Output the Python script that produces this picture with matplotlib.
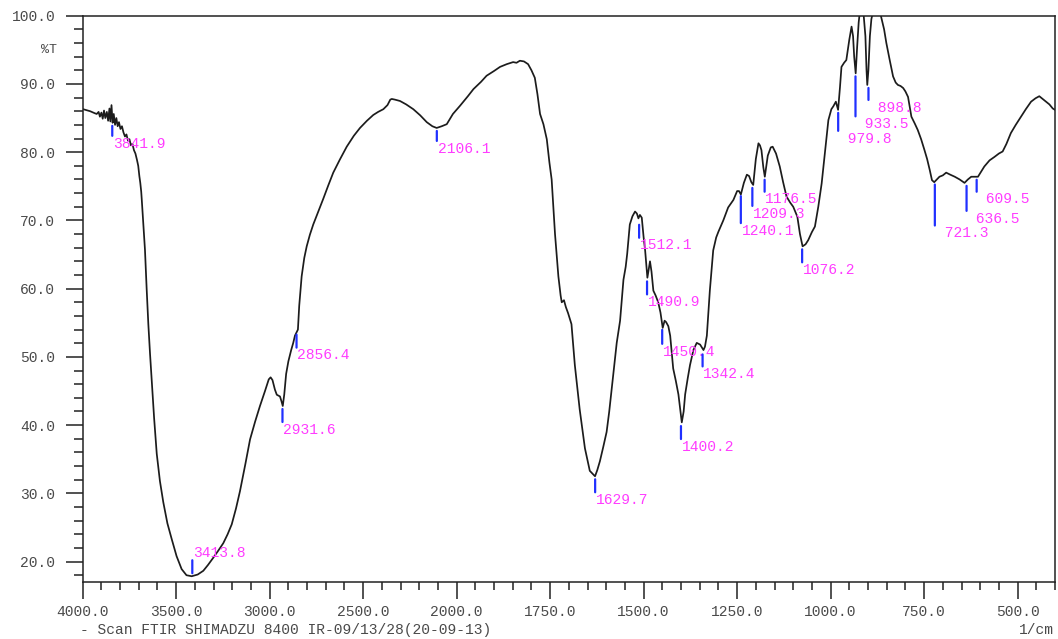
import numpy as np
import matplotlib
matplotlib.use("Agg")
import matplotlib.pyplot as plt
from matplotlib.ticker import FixedLocator, FuncFormatter

# FTIR transmittance spectrum (wavenumber in 1/cm, transmittance in %T)
wavenumber = [
    3998, 3960, 3935, 3925, 3915, 3908, 3900, 3893, 3886, 3879, 3871, 3864, 3857,
    3852, 3846, 3840, 3834, 3827, 3820, 3813, 3806, 3798, 3790, 3782, 3774, 3766,
    3758, 3750, 3742, 3734, 3726, 3718, 3710, 3703, 3697, 3692, 3687, 3684, 3676,
    3667, 3658, 3649, 3640, 3631, 3618, 3604, 3587, 3569, 3547, 3524, 3498, 3471,
    3445, 3417, 3385, 3355, 3330, 3302, 3275, 3248, 3225, 3203, 3180, 3159, 3130,
    3105, 3078, 3052, 3025, 3005, 2995, 2985, 2972, 2962, 2945, 2937, 2930, 2922,
    2912, 2900, 2885, 2874, 2865, 2856, 2849, 2842, 2835, 2829, 2815, 2802, 2785,
    2767, 2740, 2713, 2687, 2660, 2625, 2588, 2550, 2517, 2480, 2446, 2420, 2392,
    2370, 2355, 2347, 2330, 2303, 2270, 2232, 2195, 2160, 2130, 2107, 2080, 2053,
    2020, 1991, 1970, 1955, 1935, 1920, 1900, 1884, 1866, 1849, 1840, 1831, 1820,
    1809, 1800, 1791, 1784, 1777, 1768, 1759, 1752, 1746, 1741, 1737, 1732, 1728,
    1722, 1719, 1713, 1708, 1702, 1693, 1684, 1671, 1657, 1650, 1644, 1637, 1630,
    1624, 1617, 1608, 1599, 1592, 1586, 1579, 1572, 1563, 1554, 1548, 1544, 1537,
    1530, 1523, 1518, 1514, 1510, 1505, 1500, 1496, 1490, 1486, 1483, 1479, 1474,
    1468, 1461, 1455, 1449, 1444, 1440, 1434, 1429, 1421, 1414, 1407, 1398, 1393,
    1389, 1382, 1376, 1367, 1358, 1349, 1340, 1336, 1331, 1323, 1314, 1306, 1300,
    1287, 1274, 1260, 1250, 1245, 1240, 1232, 1224, 1218, 1212, 1207, 1200, 1193,
    1189, 1185, 1180, 1176, 1168, 1160, 1155, 1146, 1136, 1127, 1118, 1108, 1100,
    1089, 1082, 1075, 1067, 1060, 1050, 1042, 1033, 1024, 1015, 1006, 998, 993,
    986, 980, 975, 971, 964, 958, 950, 944, 940, 937, 933, 929, 925, 922, 913,
    907, 904, 902, 899, 895, 891, 885, 870, 864, 857, 851, 842, 833, 826, 820,
    813, 806, 800, 793, 788, 784, 775, 767, 758, 749, 742, 735, 729, 723, 716,
    709, 700, 691, 680, 668, 655, 642, 633, 624, 615, 606, 598, 589, 575, 562,
    550, 540, 530, 518, 505, 491, 478, 464, 452, 442, 433, 424, 415, 406, 400,
]
transmittance = [
    86.3, 86.0, 85.7, 85.6, 85.9, 85.2, 85.8, 84.9, 86.1, 85.0, 85.9, 84.6, 86.4,
    84.5, 86.9, 84.3, 85.6, 84.0, 85.0, 83.8, 84.4, 83.4, 83.8, 82.9, 82.3, 82.6,
    81.7, 81.9, 81.0, 81.2, 80.3, 79.8, 78.9, 78.0, 76.5, 75.5, 74.2, 73.0, 69.5,
    65.7, 60.0, 54.8, 50.5, 46.6, 41.0, 35.8, 31.8, 28.7, 25.6, 23.3, 20.8, 18.9,
    18.0, 17.85, 18.1, 18.65, 19.5, 20.55, 21.6, 22.7, 24.0, 25.45, 27.8, 30.3, 34.3,
    37.9, 40.5, 42.8, 45.0, 46.7, 47.0, 46.6, 45.2, 44.45, 44.2, 43.5, 42.8, 44.5,
    47.5, 49.35, 51.0, 52.05, 53.1, 53.6, 54.0, 57.5, 59.8, 61.8, 64.5, 66.2, 67.9,
    69.4, 71.3, 73.2, 75.1, 77.0, 78.9, 80.8, 82.4, 83.55, 84.6, 85.45, 85.9, 86.3,
    86.9, 87.7, 87.8, 87.7, 87.5, 87.0, 86.3, 85.4, 84.4, 83.8, 83.55, 83.8, 84.1,
    85.6, 86.8, 88.2, 89.25, 90.3, 91.2, 91.9, 92.5, 92.9, 93.2, 93.1, 93.4, 93.3,
    92.9, 92.0, 90.9, 88.5, 85.6, 84.1, 81.9, 78.5, 76.0, 71.5, 68.0, 64.5, 61.8,
    59.0, 58.0, 58.3, 57.3, 56.4, 54.8, 48.8, 42.3, 36.6, 34.8, 33.3, 32.9, 32.5,
    33.4, 34.7, 36.8, 39.0, 42.0, 45.0, 48.5, 52.05, 55.3, 61.3, 63.2, 65.1, 69.4,
    70.6, 71.3, 71.0, 70.3, 70.8, 70.4, 67.5, 65.6, 61.6, 63.0, 64.0, 62.5, 59.7,
    59.0, 58.0, 56.5, 54.25, 55.3, 55.1, 54.5, 53.1, 48.3, 46.5, 44.5, 40.4, 42.0,
    44.5, 46.9, 48.8, 51.0, 52.05, 51.8, 51.0, 51.5, 53.1, 59.7, 65.6, 67.5, 68.35,
    70.0, 71.9, 73.0, 74.3, 74.3, 73.8, 75.5, 76.7, 76.5, 75.6, 75.2, 79.0, 81.3,
    81.0, 80.3, 77.8, 76.4, 79.5, 80.7, 80.8, 79.8, 77.9, 75.6, 73.5, 72.6, 72.0,
    70.55, 68.0, 66.2, 66.5, 67.1, 68.3, 69.1, 72.0, 75.4, 80.0, 84.7, 86.3, 86.7,
    87.4, 86.2, 89.5, 92.5, 93.1, 93.5, 96.5, 98.4, 97.0, 94.0, 91.55, 95.5, 99.0, 100.5, 101.0,
    97.0, 92.0, 89.85, 92.0, 97.0, 99.5, 101.0, 101.0, 99.6, 98.0, 96.0, 93.5, 91.1, 90.2, 89.85,
    89.7, 89.4, 88.9, 88.1, 86.5, 85.2, 84.2, 83.25, 81.9, 80.3, 79.0, 77.4, 75.9, 75.6, 76.0,
    76.4, 76.6, 77.0, 76.7, 76.4, 76.0, 75.5, 76.0, 76.4, 76.4, 76.4, 77.1, 77.9, 78.8, 79.3,
    79.8, 80.1, 81.2, 82.8, 84.0, 85.2, 86.3, 87.4, 87.9, 88.2, 87.8, 87.4, 87.0, 86.4, 86.2,
]

# Peak table: position (1/cm) and transmittance at the peak (%T)
peak_wn = [3841.9, 3413.8, 2931.6, 2856.4, 2106.1, 1629.7, 1512.1, 1490.9,
           1450.4, 1400.2, 1342.4, 1240.1, 1209.3, 1176.5, 1076.2, 979.8,
           933.5, 898.8, 721.3, 636.5, 609.5]
peak_T = [84.3, 17.85, 42.8, 53.7, 83.55, 32.5, 69.8, 61.5,
          54.4, 40.3, 50.8, 74.0, 75.2, 76.4, 66.2, 86.2,
          91.55, 89.85, 75.7, 75.5, 76.4]

x_major = [4000, 3500, 3000, 2500, 2000, 1750, 1500, 1250, 1000, 750, 500]
y_major = [20, 30, 40, 50, 60, 70, 80, 90, 100]

# ---- layout (pixels -> points at 100 dpi) ----
PX = 0.72
tick_len_px = {3841.9: 10, 3413.8: 13, 2931.6: 13, 2856.4: 13, 2106.1: 10,
               1629.7: 13, 1512.1: 13, 1490.9: 13, 1450.4: 14, 1400.2: 13,
               1342.4: 12, 1240.1: 27, 1209.3: 18, 1176.5: 12, 1076.2: 13,
               979.8: 18, 933.5: 40, 898.8: 12, 721.3: 41, 636.5: 25, 609.5: 12}
upward = {3413.8}

GRAY = "#4a4a4a"
MAGENTA = "#ff3cff"
BLUE = "#2030ff"
FONT = ["Liberation Mono", "DejaVu Sans Mono"]
FS = 10.5


# Shimadzu-style abscissa: 500 1/cm per division above 2000, 250 below
def fwd(x):
    x = np.asarray(x, dtype=float)
    return np.where(x >= 2000, 4 + (x - 2000) / 500.0, 4 + (x - 2000) / 250.0)


def inv(u):
    u = np.asarray(u, dtype=float)
    return np.where(u >= 4, 2000 + (u - 4) * 500.0, 2000 + (u - 4) * 250.0)


W, H = 1058, 639
fig = plt.figure(figsize=(W / 100, H / 100), dpi=100)
left, right, top, bottom = 82.7, 1055.0, 15.7, 581.7
ax = fig.add_axes([left / W, 1 - bottom / H, (right - left) / W, (bottom - top) / H])

ax.set_xscale("function", functions=(fwd, inv))
ax.set_xlim(4000, 400)
ax.set_ylim(17.05, 100)

ax.plot(wavenumber, transmittance, color="#1c1c1c", lw=1.25, solid_joinstyle="round")

# peak markers and labels
for wn, t in zip(peak_wn, peak_T):
    gap = 3 * PX
    ln = tick_len_px[wn] * PX
    sgn = 1 if wn in upward else -1
    ax.annotate("", xy=(wn, t), xytext=(0, sgn * (gap + ln)), textcoords="offset points",
                arrowprops=dict(arrowstyle="-", color=BLUE, lw=1.6, shrinkA=0, shrinkB=gap))
    ax.annotate(f"{wn:6.1f}", xy=(wn, t), xytext=(0.5, sgn * (gap + ln + 0.5)),
                textcoords="offset points", ha="left",
                va="bottom" if sgn > 0 else "top",
                color=MAGENTA, fontsize=FS, family=FONT)

# axes styling
x_minor = list(range(4000, 2000, -100)) + list(range(2000, 399, -50))
ax.xaxis.set_major_locator(FixedLocator(x_major))
ax.xaxis.set_minor_locator(FixedLocator(x_minor))
ax.yaxis.set_major_locator(FixedLocator(y_major))
ax.yaxis.set_minor_locator(FixedLocator(list(range(18, 101, 2))))
fmt = FuncFormatter(lambda v, p: f"{v:.1f}")
ax.xaxis.set_major_formatter(fmt)
ax.yaxis.set_major_formatter(fmt)

for s in ax.spines.values():
    s.set_linewidth(1.1)
    s.set_color("#222222")

ax.tick_params(axis="x", which="major", direction="out", length=16.5 * PX, width=1.1,
               color="#222222", pad=5, labelsize=FS, labelcolor=GRAY)
ax.tick_params(axis="x", which="minor", direction="out", length=7.5 * PX, width=1.1,
               color="#222222")
ax.tick_params(axis="y", which="major", direction="out", length=17 * PX, width=1.1,
               color="#222222", pad=7.5, labelsize=FS, labelcolor=GRAY)
ax.tick_params(axis="y", which="minor", direction="out", length=9 * PX, width=1.1,
               color="#222222")
for lab in ax.get_xticklabels() + ax.get_yticklabels():
    lab.set_family(FONT)

fig.text(57 / W, 1 - 50 / H, "%T", ha="right", va="center", color=GRAY,
         fontsize=FS - 1, family=FONT)
fig.text(80 / W, 1 - 630 / H, "- Scan FTIR SHIMADZU 8400 IR-09/13/28(20-09-13)",
         ha="left", va="center", color=GRAY, fontsize=FS, family=FONT)
fig.text(1054 / W, 1 - 630 / H, "1/cm", ha="right", va="center", color=GRAY,
         fontsize=FS, family=FONT)

fig.savefig("out.png", dpi=100)
